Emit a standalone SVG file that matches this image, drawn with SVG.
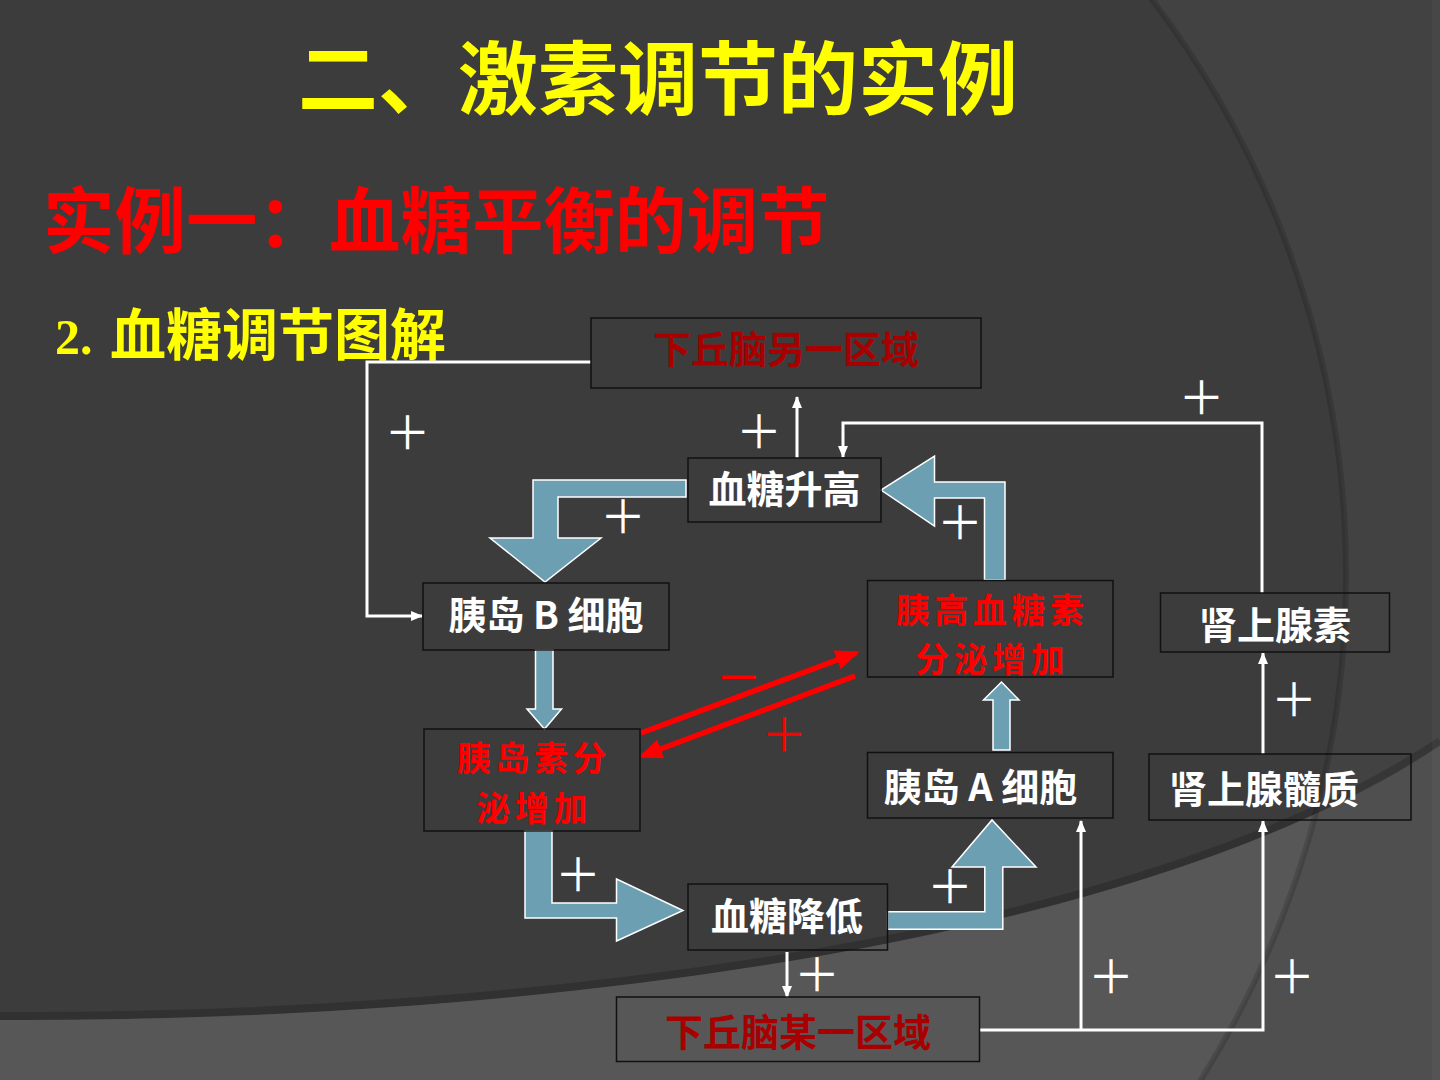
<svg xmlns="http://www.w3.org/2000/svg" width="1440" height="1080" viewBox="0 0 1440 1080">
<defs>
<style>
.box{fill:none;stroke:#111;stroke-width:1.5}
.nt{font-family:"Noto Sans CJK SC","Noto Sans",sans-serif;font-weight:700;font-size:38px;text-anchor:middle}
.two{font-size:34px;letter-spacing:4.5px}
.w{fill:#ffffff}
.r{fill:#ff0000}
.dr{fill:#a80000}
.big{fill:#6d9fb3;stroke:#ffffff;stroke-width:1.5;stroke-linejoin:miter}
.wl{fill:none;stroke:#ffffff;stroke-width:3}
.rl{fill:none;stroke:#ff0000;stroke-width:5.5}
.pl{font-family:"Noto Sans CJK SC","Noto Sans",sans-serif;font-weight:400;font-size:46px;text-anchor:middle}
</style>
<marker id="wa" markerWidth="12" markerHeight="10" refX="11" refY="5" orient="auto" markerUnits="userSpaceOnUse"><path d="M0,0 L12,5 L0,10 z" fill="#ffffff"/></marker>
<marker id="ra" markerWidth="24" markerHeight="20" refX="20" refY="10" orient="auto" markerUnits="userSpaceOnUse"><path d="M0,0 L24,10 L0,20 z" fill="#ff0000"/></marker>
<clipPath id="inC"><circle cx="396" cy="575" r="950"/></clipPath>
</defs>

<g id="background">
<rect x="0" y="0" width="1440" height="1080" fill="#424242"/>
<circle cx="396" cy="575" r="950" fill="#3c3c3c"/>
<path d="M0,1020 C550,1022 1150,940 1440,745 L1440,1080 L0,1080 Z" fill="#4f4f4f"/>
<path d="M0,1020 C550,1022 1150,940 1440,745 L1440,1080 L0,1080 Z" fill="#575757" clip-path="url(#inC)"/>
<path d="M0,1016 C550,1018 1150,936 1440,741" fill="none" stroke="#000" stroke-opacity="0.18" stroke-width="8"/>
<circle cx="396" cy="575" r="950" fill="none" stroke="#000" stroke-opacity="0.15" stroke-width="6"/>
<rect x="1432" y="0" width="8" height="1080" fill="#ffffff" fill-opacity="0.03"/>
</g>

<g id="titles">
<text x="298" y="108" font-family="'Noto Sans CJK SC','Noto Sans',sans-serif" font-weight="700" font-size="80" fill="#ffff00">二、激素调节的实例</text>
<text x="43" y="247" font-family="'Noto Sans CJK SC','Noto Sans',sans-serif" font-weight="700" font-size="71.5" fill="#ff0000">实例一：血糖平衡的调节</text>
<text y="354" font-weight="700" fill="#ffff00"><tspan x="55" font-family="'Liberation Serif',serif" font-size="50">2.</tspan><tspan x="110" y="355" font-family="'Noto Sans CJK SC','Noto Sans',sans-serif" font-size="56">血糖调节图解</tspan></text>
</g>

<g id="connectors">
<polyline class="wl" points="591,362 367,362 367,616 422,616" marker-end="url(#wa)"/>
<line class="wl" x1="797" y1="458" x2="797" y2="397" marker-end="url(#wa)"/>
<polyline class="wl" points="1262,593 1262,423 843,423 843,457" marker-end="url(#wa)"/>
<line class="wl" x1="1263" y1="754" x2="1263" y2="653" marker-end="url(#wa)"/>
<line class="wl" x1="787" y1="952" x2="787" y2="997" marker-end="url(#wa)"/>
<polyline class="wl" points="979,1030 1263,1030 1263,821" marker-end="url(#wa)"/>
<line class="wl" x1="1081" y1="1030" x2="1081" y2="821" marker-end="url(#wa)"/>
<line class="rl" x1="641" y1="733" x2="856" y2="653" marker-end="url(#ra)"/>
<line class="rl" x1="855" y1="676" x2="642" y2="756" marker-end="url(#ra)"/>
<polygon class="big" points="686,480 533,480 533,538 490,538 545,582 601,538 558,538 558,497 686,497"/>
<polygon class="big" points="984.5,580 984.5,498 934.5,498 934.5,526 881,490 934.5,456 934.5,482 1005,482 1005,580"/>
<polygon class="big" points="535.5,650 553,650 553,709 561.5,709 544.5,729 527,709 535.5,709"/>
<polygon class="big" points="993,750 993,700 983.5,700 1001.5,682 1019,700 1010,700 1010,750"/>
<polygon class="big" points="525,831 552,831 552,903 616.5,903 616.5,879 683,910.5 616.5,941 616.5,918 525,918"/>
<polygon class="big" points="887.6,911.7 984.8,911.7 984.8,867 952,867 992,820 1036,867 1002.8,867 1002.8,929.3 887.6,929.3"/>
</g>

<g id="signs">
<text class="pl w" x="407.5" y="448.5">＋</text>
<text class="pl w" x="759" y="447.5">＋</text>
<text class="pl w" x="623" y="532.5">＋</text>
<text class="pl w" x="960" y="539">＋</text>
<text class="pl w" x="1201.5" y="414">＋</text>
<text class="pl w" x="1294" y="715.5">＋</text>
<text class="pl w" x="578" y="890.5">＋</text>
<text class="pl w" x="950" y="902.5">＋</text>
<text class="pl w" x="817" y="990.5">＋</text>
<text class="pl w" x="1111" y="992.5">＋</text>
<text class="pl w" x="1292" y="992.5">＋</text>
<text class="pl r" x="784" y="750.5">＋</text>
<text class="pl r" x="738.5" y="693.5">－</text>
</g>

<g id="node-hypo-other">
<rect class="box" x="591" y="318" width="390" height="70"/>
<text class="nt dr" x="786" y="363" font-size="39">下丘脑另一区域</text>
</g>
<g id="node-glucose-high">
<rect class="box" x="688" y="458" width="193" height="64"/>
<text class="nt w" x="784.5" y="503">血糖升高</text>
</g>
<g id="node-b-cell">
<rect class="box" x="423" y="583" width="246" height="67"/>
<text class="nt w" x="546" y="629">胰岛 B 细胞</text>
</g>
<g id="node-glucagon">
<rect class="box" x="867.5" y="580.5" width="245.5" height="96.5"/>
<text class="nt two r" x="992" y="622.5">胰高血糖素</text>
<text class="nt two r" x="992" y="672">分泌增加</text>
</g>
<g id="node-epinephrine">
<rect class="box" x="1160.5" y="593" width="229" height="59"/>
<text class="nt w" x="1275" y="638.5">肾上腺素</text>
</g>
<g id="node-insulin">
<rect class="box" x="424" y="729" width="216" height="102"/>
<text class="nt two r" x="534" y="771">胰岛素分</text>
<text class="nt two r" x="534" y="820.5">泌增加</text>
</g>
<g id="node-a-cell">
<rect class="box" x="867.5" y="752.5" width="245.5" height="65.5"/>
<text class="nt w" x="980.5" y="801">胰岛 A 细胞</text>
</g>
<g id="node-adrenal-medulla">
<rect class="box" x="1149" y="754" width="262" height="66"/>
<text class="nt w" x="1264" y="802.5">肾上腺髓质</text>
</g>
<g id="node-glucose-low">
<rect class="box" x="688" y="884" width="199.5" height="66"/>
<text class="nt w" x="787" y="929.5">血糖降低</text>
</g>
<g id="node-hypo-some">
<rect class="box" x="616.5" y="997" width="363" height="64.5"/>
<text class="nt dr" x="798" y="1046" font-size="39">下丘脑某一区域</text>
</g>
</svg>
